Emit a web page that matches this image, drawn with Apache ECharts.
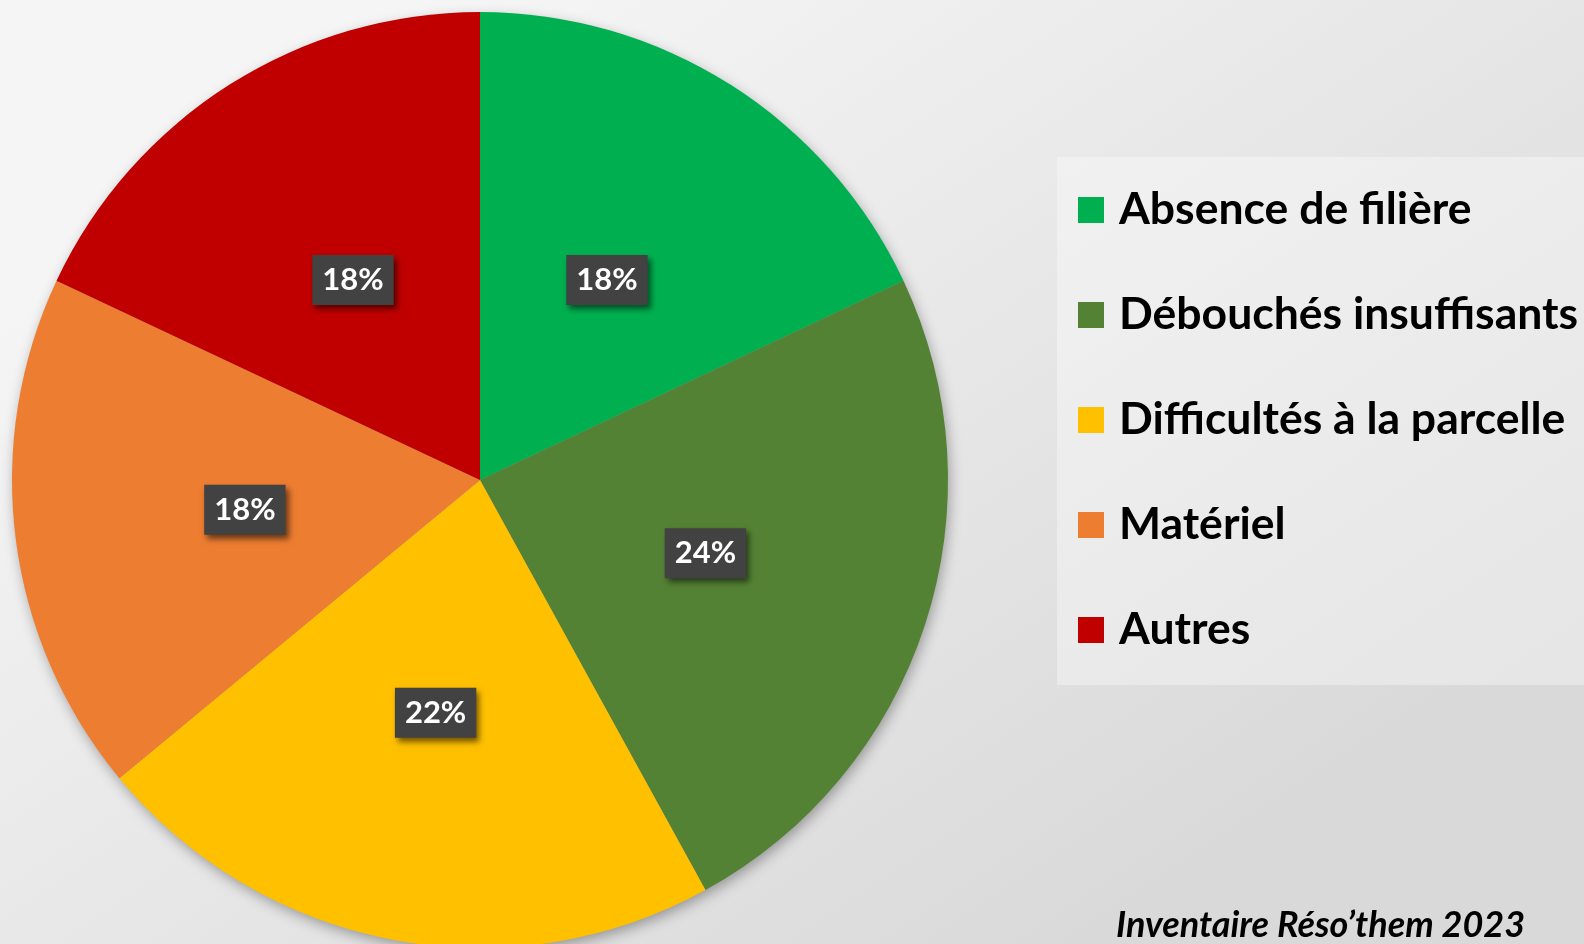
<!DOCTYPE html>
<html>
<head>
<meta charset="utf-8">
<script src="https://cdn.jsdelivr.net/npm/echarts@6/dist/echarts.min.js"></script>
<style>
  html, body { margin: 0; padding: 0; }
  #main { width: 1584px; height: 944px; }
</style>
</head>
<body>
<div id="main"></div>
<script>
var categories = ['Absence de filière', 'Débouchés insuffisants', 'Difficultés à la parcelle', 'Matériel', 'Autres'];
var percents = [18, 24, 22, 18, 18];
var colors = ['#00b050', '#548235', '#ffc000', '#ed7d31', '#c00000'];
var source = 'Inventaire Réso\u2019them 2023';

var myChart = echarts.init(document.getElementById('main'));

var pieData = categories.map(function (name, i) {
    return { name: name, value: percents[i], itemStyle: { color: colors[i] } };
});

var option = {
    backgroundColor: {
        type: 'linear', x: 0.3, y: 0, x2: 0.7, y2: 1,
        colorStops: [
            { offset: 0, color: '#f5f5f5' },
            { offset: 1, color: '#d9d9d9' }
        ]
    },
    animation: false,
    title: {
        text: source,
        left: 1116,
        top: 904,
        padding: 0,
        textStyle: {
            fontFamily: 'Lato',
            fontSize: 36,
            fontWeight: 'bold',
            fontStyle: 'italic',
            color: '#000',
            lineHeight: 42
        }
    },
    graphic: [
        {
            type: 'rect', z: -10,
            shape: { x: 1057, y: 157, width: 540, height: 528 },
            style: { fill: 'rgba(255,255,255,0.35)' }
        },
        {
            type: 'circle', z: -5,
            shape: { cx: 480, cy: 480, r: 467 },
            style: {
                fill: '#999',
                shadowBlur: 14,
                shadowOffsetX: 2,
                shadowOffsetY: 5,
                shadowColor: 'rgba(0,0,0,0.35)'
            }
        }
    ],
    legend: {
        orient: 'vertical',
        left: 1078,
        top: 185,
        padding: 0,
        itemWidth: 26,
        itemHeight: 26,
        itemGap: 55,
        icon: 'rect',
        selectedMode: false,
        data: categories,
        textStyle: {
            fontFamily: 'Lato',
            fontSize: 44.5,
            fontWeight: 'bold',
            color: '#000',
            lineHeight: 50,
            padding: [0, 0, 0, 10]
        }
    },
    series: [
        {
            type: 'pie',
            center: [480, 480],
            radius: 468,
            startAngle: 90,
            clockwise: true,
            avoidLabelOverlap: false,
            silent: true,
            data: pieData,
            itemStyle: { borderWidth: 0 },
            label: {
                show: true,
                position: 'inside',
                formatter: '{c}%',
                fontFamily: 'Lato',
                fontSize: 31,
                fontWeight: 'bold',
                color: '#fff',
                backgroundColor: '#424242',
                padding: [11, 10, 8, 10],
                shadowColor: 'rgba(0,0,0,0.55)',
                shadowBlur: 6,
                shadowOffsetX: 3,
                shadowOffsetY: 4
            },
            labelLine: { show: false }
        }
    ]
};
myChart.setOption(option);

window.onresize = function () {
    myChart.resize();
};
</script>
</body>
</html>
